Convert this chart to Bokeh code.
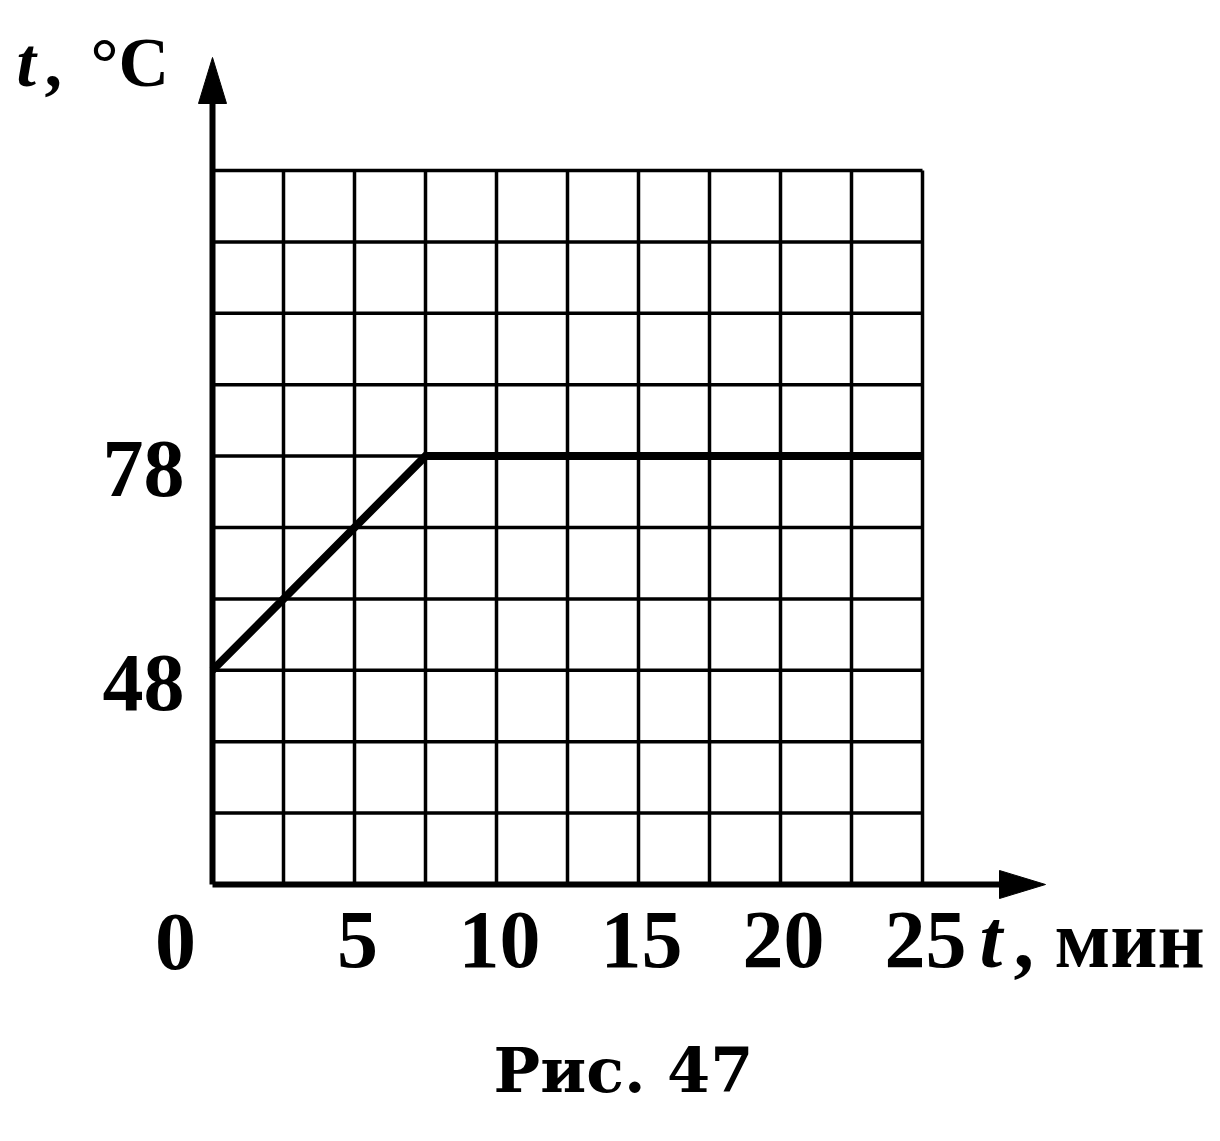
from bokeh.plotting import figure
from bokeh.models import Range1d
from bokeh.core.properties import value
from bokeh.embed import file_html
from bokeh.resources import INLINE

# ---- data ----
time_min = [0, 7.5, 25]
temp_c = [48, 78, 78]
x_grid = [0, 2.5, 5, 7.5, 10, 12.5, 15, 17.5, 20, 22.5, 25]
y_grid = [18, 28, 38, 48, 58, 68, 78, 88, 98, 108, 118]
x_tick_vals = [5, 10, 15, 20, 25]
x_tick_labels = ["5", "10", "15", "20", "25"]
y_tick_vals = [48, 78]
y_tick_labels = ["48", "78"]
origin_label = "0"
x_title = ", мин"
y_title_unit = "°C"
var_name = "t"
caption = "Рис. 47"

# ---- layout (pixel scale of the page) ----
W, H = 1204, 1125
X0_PX, Y0_PX = 212, 884               # origin of the grid on the canvas
SX = 28.4                             # px per minute
SY = 7.14                             # px per degree
XMIN, YMIN = x_grid[0], y_grid[0]

def dx(px):
    return px / SX

def dy(px):
    return px / SY

x_start = XMIN - X0_PX / SX
x_end = x_start + W / SX
y_end = YMIN + Y0_PX / SY
y_start = y_end - H / SY

p = figure(width=W, height=H, x_range=Range1d(x_start, x_end),
           y_range=Range1d(y_start, y_end), output_backend="svg",
           toolbar_location=None, min_border=0, x_axis_type=None,
           y_axis_type=None, outline_line_color=None,
           background_fill_color="white", border_fill_color="white")
p.grid.visible = False

# grid
p.segment(x0=x_grid[1:], y0=[y_grid[0]] * (len(x_grid) - 1),
          x1=x_grid[1:], y1=[y_grid[-1]] * (len(x_grid) - 1),
          line_color="black", line_width=3.5)
p.segment(x0=[x_grid[0]] * (len(y_grid) - 1), y0=y_grid[1:],
          x1=[x_grid[-1]] * (len(y_grid) - 1), y1=y_grid[1:],
          line_color="black", line_width=3.5)

# axes with arrows
L, HW = 46, 14
x_tip = x_grid[0] + dx(833)
y_tip = y_grid[0] + dy(827)
p.segment(x0=[x_grid[0]], y0=[y_grid[0]], x1=[x_tip - dx(L) + dx(2)], y1=[y_grid[0]],
          line_color="black", line_width=6)
p.segment(x0=[x_grid[0]], y0=[y_grid[0]], x1=[x_grid[0]], y1=[y_tip - dy(L) + dy(2)],
          line_color="black", line_width=6)
p.patches(xs=[[x_tip, x_tip - dx(L), x_tip - dx(L)],
              [x_grid[0], x_grid[0] - dx(HW), x_grid[0] + dx(HW)]],
          ys=[[y_grid[0], y_grid[0] + dy(HW), y_grid[0] - dy(HW)],
              [y_tip, y_tip - dy(L), y_tip - dy(L)]],
          fill_color="black", line_color="black")

# data line
p.line(time_min, temp_c, line_color="black", line_width=8, line_join="miter")

TF = value("Liberation Serif")
FS = "82px"

# x tick labels
p.text(x=[v + dx(3) for v in x_tick_vals], y=[y_grid[0] - dy(55)] * len(x_tick_vals),
       text=x_tick_labels, text_font=TF, text_font_size=FS, text_font_style="bold",
       text_align="center", text_baseline="alphabetic", text_color="black")
p.text(x=[x_grid[0] - dx(37)], y=[y_grid[0] - dy(57)], text=[origin_label],
       text_font=TF, text_font_size=FS, text_font_style="bold",
       text_align="center", text_baseline="alphabetic", text_color="black")

# y tick labels
p.text(x=[x_grid[0] - dx(28)] * len(y_tick_vals), y=[v - dy(13) for v in y_tick_vals],
       text=y_tick_labels, text_font=TF, text_font_size=FS, text_font_style="bold",
       text_align="right", text_baseline="alphabetic", text_color="black")

# x title
p.text(x=[x_grid[-1] + dx(57)], y=[y_grid[0] - dy(55)], text=[var_name],
       text_font=TF, text_font_size=FS, text_font_style="bold italic",
       text_align="left", text_baseline="alphabetic", text_color="black")
p.text(x=[x_grid[-1] + dx(91)], y=[y_grid[0] - dy(55)], text=[x_title],
       text_font=TF, text_font_size=FS, text_font_style="bold",
       text_align="left", text_baseline="alphabetic", text_color="black")

# y title
TS = "70px"
TY = y_grid[0] + dy(822)
p.text(x=[x_grid[0] - dx(196)], y=[TY], text=[var_name],
       text_font=TF, text_font_size=TS, text_font_style="bold italic",
       text_align="left", text_baseline="alphabetic", text_color="black")
p.text(x=[x_grid[0] - dx(168)], y=[TY], text=[","],
       text_font=TF, text_font_size=TS, text_font_style="bold",
       text_align="left", text_baseline="alphabetic", text_color="black")
p.text(x=[x_grid[0] - dx(122)], y=[TY], text=[y_title_unit],
       text_font=TF, text_font_size=TS, text_font_style="bold",
       text_align="left", text_baseline="alphabetic", text_color="black")

# caption
p.text(x=[x_grid[0] + dx(411)], y=[y_grid[0] - dy(186)], text=[caption],
       text_font=value("DejaVu Serif"), text_font_size="62px", text_font_style="bold",
       text_align="center", text_baseline="alphabetic", text_color="black")

open("out.html", "w").write(file_html(p, INLINE))
